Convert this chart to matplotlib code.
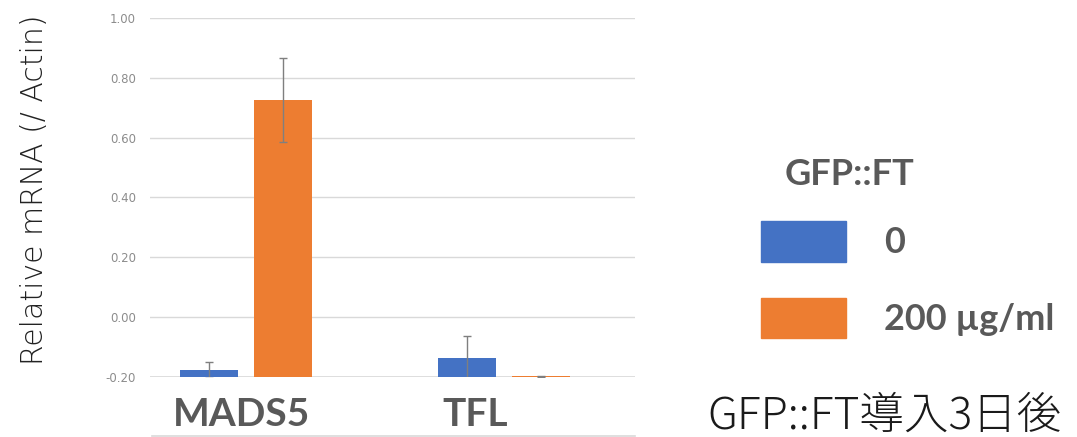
import numpy as np
import matplotlib
matplotlib.use("Agg")
import matplotlib.pyplot as plt
from matplotlib.patches import Patch

# ---------------------------------------------------------------------------
# Data

genes = ["MADS5", "TFL"]
series = ["0", "200 µg/ml"]
vals_0 = [-0.177, -0.137]
err_0 = [0.027, 0.074]
vals_200 = [0.725, -0.197]
err_200 = [0.140, 0.002]
baseline = -0.20
yticks = [-0.20, 0.00, 0.20, 0.40, 0.60, 0.80, 1.00]

BLUE = "#4472C4"
ORANGE = "#ED7D31"
GREY = "#595959"

# ---------------------------------------------------------------------------

fig = plt.figure(figsize=(10.77, 4.37), dpi=100)
ax = fig.add_axes([150 / 1077, 1 - 377 / 437, 485 / 1077, 359 / 437])

x = np.arange(len(genes))
width = 0.225
off = 0.143

err_kw = dict(ecolor="#7f7f7f", elinewidth=1.0, capsize=3, capthick=1.0)
ax.bar(x - off, np.array(vals_0) - baseline, width, bottom=baseline,
       color=BLUE, yerr=err_0, error_kw=err_kw, zorder=3)
ax.bar(x + off, np.array(vals_200) - baseline, width, bottom=baseline,
       color=ORANGE, yerr=err_200, error_kw=err_kw, zorder=3)

ax.set_xlim(-0.372, 1.508)
ax.set_ylim(-0.2, 1.0)
ax.set_yticks(yticks)
ax.set_yticklabels([f"{t:.2f}" for t in yticks])
ax.set_xticks([])
ax.tick_params(axis="y", length=0, pad=10, labelsize=8.5, labelcolor="#8c8c8c")
ax.yaxis.grid(True, color="#d9d9d9", linewidth=1.0, zorder=0)
ax.set_axisbelow(True)
for s in ax.spines.values():
    s.set_visible(False)
ax.axhline(baseline, color="#d9d9d9", linewidth=1.2, zorder=1)

ax.set_ylabel("Relative mRNA (/ Actin)", fontsize=21.5, color="#222222",
              fontweight="light")
ax.yaxis.set_label_coords(-(150 - 49) / 485, (377 - 190) / 359)

# category labels (big, bold grey)
cat_x = [241 / 1077, 475 / 1077]
for cx, g in zip(cat_x, genes):
    fig.text(cx, 1 - 414 / 437, g, ha="center", va="center",
             fontsize=28, fontweight="bold", color=GREY, family="Lato")

# line under the category labels
fig.add_artist(plt.Line2D([152 / 1077, 635 / 1077], [1 - 436 / 437] * 2,
                          color="#d9d9d9", linewidth=1.2))

# legend
fig.text(850 / 1077, 1 - 175 / 437, "GFP::FT", ha="center", va="center",
         fontsize=26, fontweight="bold", color=GREY, family="Lato")
handles = [Patch(color=BLUE), Patch(color=ORANGE)]
leg = fig.legend(handles, series, loc="upper left",
                 bbox_to_anchor=(761 / 1077, 1 - 221 / 437),
                 frameon=False, borderpad=0, borderaxespad=0,
                 handlelength=2.35, handleheight=1.35, handletextpad=1.05,
                 labelspacing=1.0,
                 prop={"family": "Lato", "weight": "bold", "size": 26})
for t in leg.get_texts():
    t.set_color(GREY)

fig.text(707 / 1077, 1 - 416 / 437, "GFP::FT導入3日後", ha="left", va="center",
         fontsize=32, color="#1a1a1a", fontweight="light",
         family=["Noto Sans CJK JP", "DejaVu Sans"])

fig.savefig("out.png", dpi=100)
